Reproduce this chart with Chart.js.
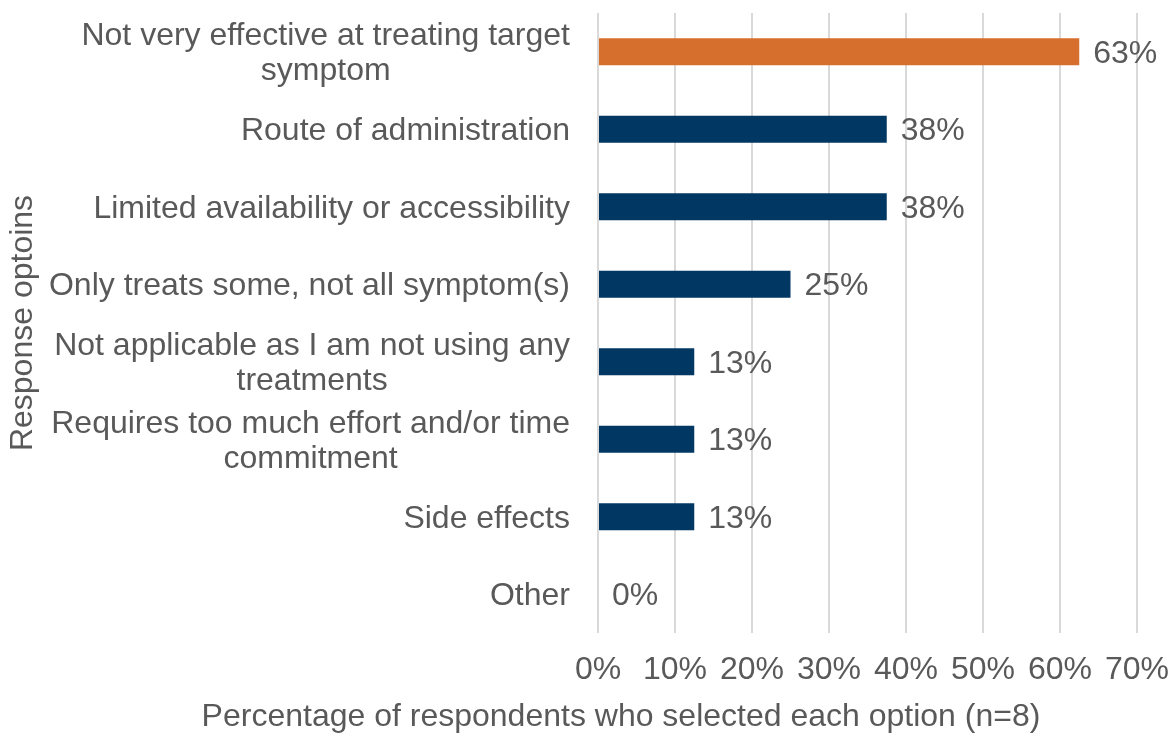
<!DOCTYPE html>
<html>
<head>
<meta charset="utf-8">
<title>Response options</title>
<script src="https://cdn.jsdelivr.net/npm/chart.js@4/dist/chart.umd.min.js"></script>
<style>
  html, body { margin: 0; padding: 0; background: #fff; }
  #wrap { width: 1172px; height: 733px; }
</style>
</head>
<body>
<div id="wrap"><canvas id="barChart"></canvas></div>
<script>
const categories = [
  ["Not very effective at treating target", "symptom"],
  ["Route of administration"],
  ["Limited availability or accessibility"],
  ["Only treats some, not all symptom(s)"],
  ["Not applicable as I am not using any", "treatments"],
  ["Requires too much effort and/or time", "commitment"],
  ["Side effects"],
  ["Other"]
];
// share of the 8 respondents, in percent
const percentSelected = [62.5, 37.5, 37.5, 25, 12.5, 12.5, 12.5, 0];
const xTicks = [0, 10, 20, 30, 40, 50, 60, 70];
const xTitle = "Percentage of respondents who selected each option (n=8)";

const FONT = "Liberation Sans, Arial, sans-serif";
const SIZE = 32;
const TEXT = "#595959";
const NAVY = "#003763";
const ORANGE = "#D66F2D";
const topIndex = 0;

const barColors = percentSelected.map((v, i) => i === topIndex ? ORANGE : NAVY);

// category names: right edge of each block lines up, lines inside a block are centred
const categoryLabels = {
  id: "categoryLabels",
  afterDraw(chart) {
    const ctx = chart.ctx;
    const y = chart.scales.y;
    const right = chart.chartArea.left - 28;
    const lineH = 35;
    ctx.save();
    ctx.font = SIZE + "px " + FONT;
    ctx.fillStyle = TEXT;
    ctx.textAlign = "center";
    ctx.textBaseline = "middle";
    categories.forEach((lines, i) => {
      const w = Math.max(...lines.map(l => ctx.measureText(l).width));
      const cx = right - w / 2;
      const cy = y.getPixelForValue(i) + 2;
      const start = cy - (lines.length - 1) * lineH / 2;
      lines.forEach((l, k) => ctx.fillText(l, cx, start + k * lineH));
    });
    // x axis title is wider than the plot, so it is drawn here unclipped
    ctx.fillText(xTitle, 621, chart.height - 16);
    ctx.restore();
  }
};

// percent value written just past the end of each bar
const valueLabels = {
  id: "valueLabels",
  afterDatasetsDraw(chart) {
    const ctx = chart.ctx;
    const meta = chart.getDatasetMeta(0);
    ctx.save();
    ctx.font = SIZE + "px " + FONT;
    ctx.fillStyle = TEXT;
    ctx.textAlign = "left";
    ctx.textBaseline = "middle";
    meta.data.forEach((bar, i) => {
      ctx.fillText(Math.round(percentSelected[i]) + "%", bar.x + 14, bar.y + 2);
    });
    ctx.restore();
  }
};

new Chart(document.getElementById("barChart"), {
  type: "bar",
  data: {
    labels: categories,
    datasets: [{
      data: percentSelected,
      backgroundColor: barColors,
      borderWidth: 0,
      categoryPercentage: 1,
      barPercentage: 0.35
    }]
  },
  options: {
    indexAxis: "y",
    responsive: true,
    maintainAspectRatio: false,
    animation: false,
    layout: { padding: { top: 13, right: 35, bottom: 46, left: 0 } },
    plugins: {
      legend: { display: false },
      tooltip: { enabled: false }
    },
    scales: {
      x: {
        min: 0,
        max: 70,
        afterBuildTicks(scale) {
          scale.ticks = xTicks.map(v => ({ value: v }));
        },
        afterFit(scale) {
          scale.height = 54;
          scale.paddingLeft = 0;
          scale.paddingRight = 0;
        },
        ticks: {
          callback: v => v + "%",
          color: TEXT,
          font: { family: FONT, size: SIZE },
          padding: 18,
          maxRotation: 0
        },
        grid: { color: "#D9D9D9", lineWidth: 2, drawTicks: false, tickLength: 0 },
        border: { display: false }
      },
      y: {
        ticks: { display: false },
        grid: { display: false },
        border: { display: false },
        afterFit(scale) {
          scale.width = 598;
          scale.paddingTop = 0;
          scale.paddingBottom = 0;
        },
        title: {
          display: true,
          text: "Response optoins",
          color: TEXT,
          font: { family: FONT, size: SIZE },
          padding: { top: 4, bottom: 0 }
        }
      }
    }
  },
  plugins: [categoryLabels, valueLabels]
});
</script>
</body>
</html>
